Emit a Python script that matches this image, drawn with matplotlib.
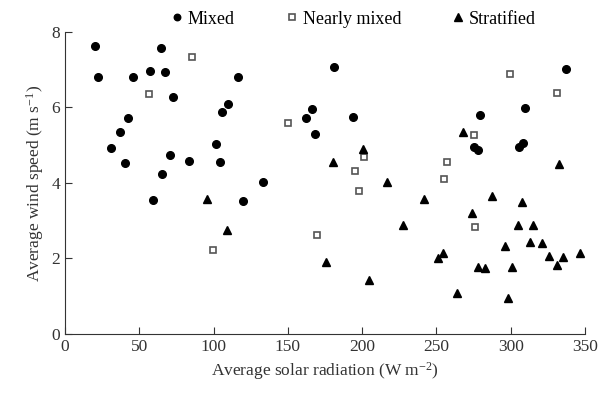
import matplotlib
matplotlib.use("Agg")
import matplotlib.pyplot as plt

plt.rcParams['font.family'] = ['Liberation Serif', 'DejaVu Serif']
plt.rcParams['mathtext.fontset'] = 'custom'
plt.rcParams['mathtext.rm'] = 'Liberation Serif'
plt.rcParams['mathtext.it'] = 'Liberation Serif:italic'

# values
mixed_x = [20.5, 22.5, 64.3, 45.7, 57.3, 67.0, 116.3, 72.8, 110.0, 105.5, 42.7,
           36.9, 30.8, 101.7, 40.3, 70.8, 83.3, 104.2, 65.0, 59.1, 120.1, 133.2,
           181.2, 166.4, 162.3, 194.2, 168.1, 337.1, 309.5, 279.4, 275.2, 277.8,
           305.9, 308.2]
mixed_y = [7.64, 6.82, 7.57, 6.80, 6.97, 6.93, 6.81, 6.27, 6.09, 5.87, 5.71,
           5.35, 4.92, 5.02, 4.54, 4.75, 4.58, 4.56, 4.23, 3.55, 3.51, 4.03,
           7.06, 5.95, 5.73, 5.76, 5.31, 7.02, 5.99, 5.80, 4.96, 4.87,
           4.96, 5.05]

nearly_x = [85.6, 56.7, 99.3, 150.0, 201.6, 195.5, 198.2, 257.2, 255.4, 169.7,
            299.4, 331.0, 275.4, 276.3]
nearly_y = [7.35, 6.37, 2.23, 5.60, 4.70, 4.33, 3.80, 4.55, 4.10, 2.61,
            6.89, 6.38, 5.27, 2.83]

strat_x = [95.9, 108.9, 200.5, 180.1, 216.6, 241.5, 227.2, 176.0, 204.7, 251.4,
           254.3, 268.0, 332.8, 287.3, 307.9, 274.3, 305.0, 314.9, 312.9, 320.9,
           296.0, 346.5, 325.6, 335.5, 331.5, 277.9, 282.4, 300.7, 264.0, 298.3]
strat_y = [3.58, 2.75, 4.90, 4.56, 4.03, 3.58, 2.88, 1.90, 1.42, 2.00,
           2.14, 5.36, 4.49, 3.66, 3.49, 3.21, 2.90, 2.90, 2.45, 2.41,
           2.32, 2.15, 2.07, 2.03, 1.82, 1.77, 1.74, 1.77, 1.09, 0.96]

fig = plt.figure(figsize=(5.99, 3.97), dpi=100)
ax = fig.add_axes([0.1085, 0.1587, 0.868, 0.7607])

ax.plot(mixed_x, mixed_y, 'o', color='black', ms=5.5, label='Mixed', clip_on=False)
ax.plot(nearly_x, nearly_y, 's', mfc='white', mec='#555555', mew=1.2, ms=4.8,
        label='Nearly mixed', clip_on=False)
ax.plot(strat_x, strat_y, '^', color='black', ms=6.3, label='Stratified', clip_on=False)

ax.set_xlim(0, 350)
ax.set_ylim(0, 8)
ax.set_xticks(range(0, 351, 50))
ax.set_yticks(range(0, 9, 2))
ax.spines['top'].set_visible(False)
ax.spines['right'].set_visible(False)
ax.tick_params(direction='in', labelsize=12.5, colors='#333333', length=5)
for s in ['left', 'bottom']:
    ax.spines[s].set_color('#333333')

ax.set_xlabel('Average solar radiation (W m$^{-2}$)', fontsize=12.5, color='#333333')
ax.set_ylabel('Average wind speed (m s$^{-1}$)', fontsize=12.5, color='#333333')

ax.legend(loc='lower center', bbox_to_anchor=(0.552, 0.99), ncol=3, frameon=False,
          fontsize=13, handletextpad=0.1, columnspacing=2.65, handlelength=1.0,
          markerscale=0.85, borderaxespad=0)

fig.savefig('out.png', dpi=100)
